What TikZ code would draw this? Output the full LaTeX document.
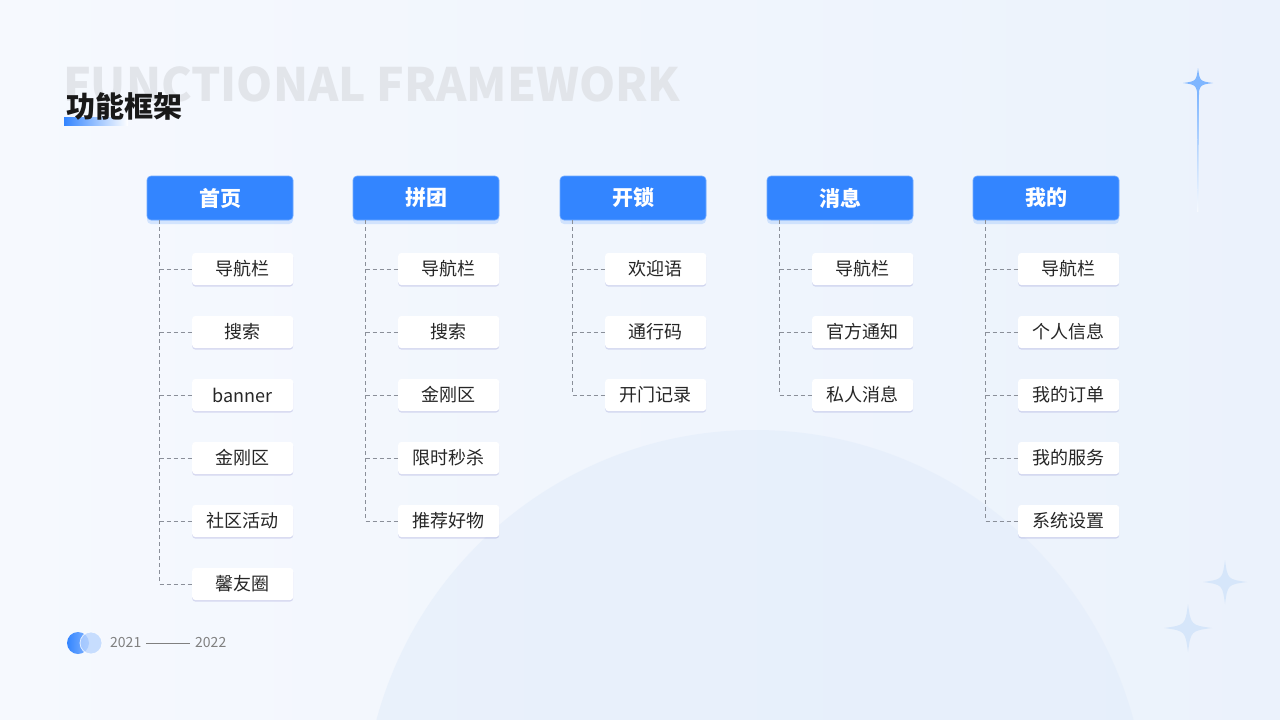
\documentclass[tikz,border=0pt]{standalone}
\usepackage{fontspec}
\setmainfont{Noto Sans CJK SC}
\usetikzlibrary{shadows}
\definecolor{mainblue}{HTML}{3385FF}
\definecolor{bgA}{HTML}{F6F9FE}
\definecolor{bgB}{HTML}{EBF2FC}
\definecolor{globe}{HTML}{E3EDFB}
\definecolor{ghost}{HTML}{E2E5EA}
\definecolor{dashgray}{HTML}{8A8F99}
\definecolor{txt}{HTML}{262626}
\definecolor{star}{HTML}{7FB6FF}
\definecolor{starlight}{HTML}{D6E6FA}
\tikzset{
  head/.style={fill=mainblue, draw=mainblue!70!white, line width=0.6pt, rounded corners=4pt,
    minimum width=146pt, minimum height=44pt, text=white, inner sep=0pt,
    font=\bfseries\fontsize{21}{24}\selectfont,
    drop shadow={fill=mainblue!70, opacity=0.25, shadow xshift=0pt, shadow yshift=-4pt}},
  item/.style={fill=white, rounded corners=3pt, minimum width=101pt, minimum height=32pt,
    inner sep=0pt, anchor=west, text=txt, font=\fontsize{18}{22}\selectfont,
    drop shadow={fill=blue!40!gray, opacity=0.18, shadow xshift=0pt, shadow yshift=-1.5pt}},
  dashline/.style={draw=dashgray, line width=0.9pt, dash pattern=on 4pt off 3pt},
  sparkle/.style={fill=star},
}
\newcommand{\sparkleat}[4]{% x y size style
  \fill[#4] (#1,#2-#3) .. controls (#1+0.12*#3,#2-0.12*#3) .. (#1+#3,#2)
    .. controls (#1+0.12*#3,#2+0.12*#3) .. (#1,#2+#3)
    .. controls (#1-0.12*#3,#2+0.12*#3) .. (#1-#3,#2)
    .. controls (#1-0.12*#3,#2-0.12*#3) .. cycle;}
\begin{document}
\begin{tikzpicture}[x=1pt,y=-1pt]
\useasboundingbox (0,0) rectangle (1280,720);
% background
\shade[left color=bgA, right color=bgB] (0,0) rectangle (1280,720);
\begin{scope}
  \clip (0,0) rectangle (1280,720);
  \fill[globe, opacity=0.6] (755,822) circle[radius=392pt];
\end{scope}
% ghost title
\node[anchor=west, inner sep=0pt, text=ghost, font=\bfseries\fontsize{46}{52}\selectfont] (ghost) at (63,84) {FUNCTIONAL FRAMEWORK};
% title bar + title
\shade[left color=mainblue, right color=mainblue!0] (64,117) rectangle (128,125);
\node[anchor=west, inner sep=0pt, text=black!90, font=\bfseries\fontsize{29}{32}\selectfont] (title) at (66,106) {功能框架};
% sparkles
\shade[top color=star, bottom color=bgB!40!white] (1197,92) -- (1199,92) -- (1198.4,212) -- (1197.6,212) -- cycle;
\sparkleat{1198}{83}{15}{sparkle}
\sparkleat{1225}{582}{22}{starlight}
\sparkleat{1188}{628}{24}{starlight}
% columns
\def\colx{{0,220,426,633,840,1046}}
\foreach \c/\name/\items in {
  1/首页/{导航栏,搜索,banner,金刚区,社区活动,馨友圈},
  2/拼团/{导航栏,搜索,金刚区,限时秒杀,推荐好物},
  3/开锁/{欢迎语,通行码,开门记录},
  4/消息/{导航栏,官方通知,私人消息},
  5/我的/{导航栏,个人信息,我的订单,我的服务,系统设置}}{
  \pgfmathsetmacro{\hx}{\colx[\c]}
  \node[head] (h\c) at (\hx,198) {\name};
  \coordinate (v\c) at ([xshift=13pt]h\c.south west);
  \foreach \it [count=\k] in \items {
    \pgfmathsetmacro{\iy}{269+63*(\k-1)}
    \node[item] (c\c-\k) at (\hx-28,\iy) {\it};
    \draw[dashline] (v\c |- c\c-\k.west) -- (c\c-\k.west);
    \xdef\last{\k}
  }
  \draw[dashline] (v\c) -- (v\c |- c\c-\last.west);
}
% footer
\shade[left color=mainblue, right color=mainblue!60] (78,643) circle[radius=11pt];
\fill[mainblue!35, opacity=0.75, draw=white, line width=0.8pt] (91,643) circle[radius=11pt];
\node[anchor=west, inner sep=0pt, text=gray, font=\fontsize{14}{16}\selectfont] (y1) at (110,643) {2021};
\node[anchor=west, inner sep=0pt, text=gray, font=\fontsize{14}{16}\selectfont] (y2) at (195,643) {2022};
\draw[gray, line width=1pt] ([xshift=5pt]y1.east) -- ([xshift=-5pt]y2.west);
\end{tikzpicture}
\end{document}
